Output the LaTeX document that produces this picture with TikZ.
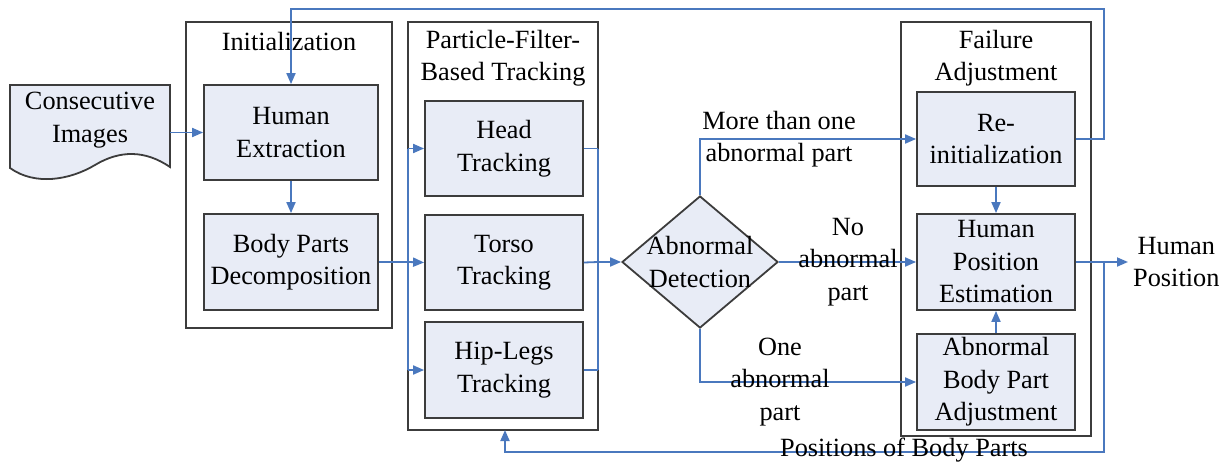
\documentclass[tikz,border=0pt]{standalone}
\usepackage{fontspec}
\setmainfont{Liberation Serif}
\usetikzlibrary{arrows.meta,shapes.geometric}
\definecolor{boxfill}{HTML}{E8ECF6}
\definecolor{linkblue}{HTML}{4A78BE}
\definecolor{edgegray}{HTML}{3C3C3C}
\tikzset{
  txt/.style={font=\fontsize{26.3}{32.5}\selectfont, align=center, inner sep=0pt},
  procbox/.style={draw=edgegray, fill=boxfill, line width=1.8pt, txt},
  groupbox/.style={draw=edgegray, line width=1.8pt},
  link/.style={draw=linkblue, line width=1.8pt},
  arr/.style={link, -{Triangle[length=11pt,width=9pt]}},
}
\begin{document}
\begin{tikzpicture}[x=1pt,y=-1pt]
\useasboundingbox (0,0) rectangle (1231,466);

% group boxes
\draw[groupbox] (186,22) rectangle (392,328);
\draw[groupbox] (408,22) rectangle (598,430);
\draw[groupbox] (901,22) rectangle (1091,436);
\node[txt] (tinit) at (289,42) {Initialization};
\node[txt] (tpf) at (503,58) {Particle-Filter-\\Based Tracking};
\node[txt] (tfa) at (996,58) {Failure\\Adjustment};
\coordinate (pfbot) at (505,430);

% document shape
\draw[draw=edgegray, fill=boxfill, line width=1.8pt]
  (10,168) -- (10,85) -- (170,85) -- (170,167)
  .. controls (145,150) and (120,150) .. (95,165)
  .. controls (70,180) and (35,186) .. (10,168) -- cycle;
\node[txt] (ci) at (90,120) {Consecutive\\Images};
\coordinate (ciR) at (170,132.5);

% process boxes
\node[procbox, minimum width=174pt, minimum height=95pt] (he) at (291,132.5) {Human\\Extraction};
\node[procbox, minimum width=174pt, minimum height=96pt] (bpd) at (291,262) {Body Parts\\Decomposition};
\node[procbox, minimum width=158pt, minimum height=95pt] (head) at (504,148.5) {Head\\Tracking};
\node[procbox, minimum width=158pt, minimum height=95pt] (torso) at (504,262.5) {Torso\\Tracking};
\node[procbox, minimum width=158pt, minimum height=96pt] (hip) at (504,370) {Hip-Legs\\Tracking};
\node[procbox, minimum width=158pt, minimum height=94pt] (reinit) at (996,139) {Re-\\initialization};
\node[procbox, minimum width=158pt, minimum height=96pt] (hpe) at (996,262) {Human\\Position\\Estimation};
\node[procbox, minimum width=158pt, minimum height=96pt] (abpa) at (996,382) {Abnormal\\Body Part\\Adjustment};

% diamond
\node[draw=edgegray, fill=boxfill, line width=1.8pt, diamond, minimum width=156pt, minimum height=132pt, inner sep=0pt] (ad) at (700,262) {};
\node[txt] (adt) at (700,262) {Abnormal\\Detection};

% coordinates
\coordinate (split) at (408,262);
\coordinate (merge) at (598,262);
\coordinate (tap) at (1104,262);

% connectors
\draw[arr] (ciR) -- (he.west);
\draw[arr] (he.south) -- (bpd.north);
\draw[link] (bpd.east) -- (split);
\draw[link] (split |- head.west) -- (split |- hip.west);
\draw[arr] (split |- head.west) -- (head.west);
\draw[arr] (split) -- (torso.west);
\draw[arr] (split |- hip.west) -- (hip.west);
\draw[link] (head.east) -- (merge |- head.east);
\draw[link] (hip.east) -- (merge |- hip.east);
\draw[link] (merge |- head.east) -- (merge |- hip.east);
\draw[link] (torso.east) -- (merge);
\draw[arr] (merge) -- (ad.west);
\draw[arr] (ad.north) |- (reinit.west);
\draw[arr] (ad.east) -- (hpe.west);
\draw[arr] (ad.south) |- (abpa.west);
\draw[arr] (reinit.south) -- (hpe.north);
\draw[arr] (abpa.north) -- (hpe.south);
\draw[arr] (reinit.east) -- (1104,139) -- (1104,9) -- (he.north |- 0,9) -- (he.north);
\coordinate (out) at (1128,262);
\draw[arr] (hpe.east) -- (out);
\draw[arr] (tap) -- (1104,452) -- (pfbot |- 0,452) -- (pfbot);

% labels
\node[txt] (l1) at (779,139) {More than one\\abnormal part};
\node[txt] (l2) at (848,262) {No\\abnormal\\part};
\node[txt] (l3) at (780,382) {One\\abnormal\\part};
\node[txt] (l4) at (904,450) {Positions of Body Parts};
\node[txt, anchor=west] (hp) at (1133,262) {Human\\Position};
\end{tikzpicture}
\end{document}
